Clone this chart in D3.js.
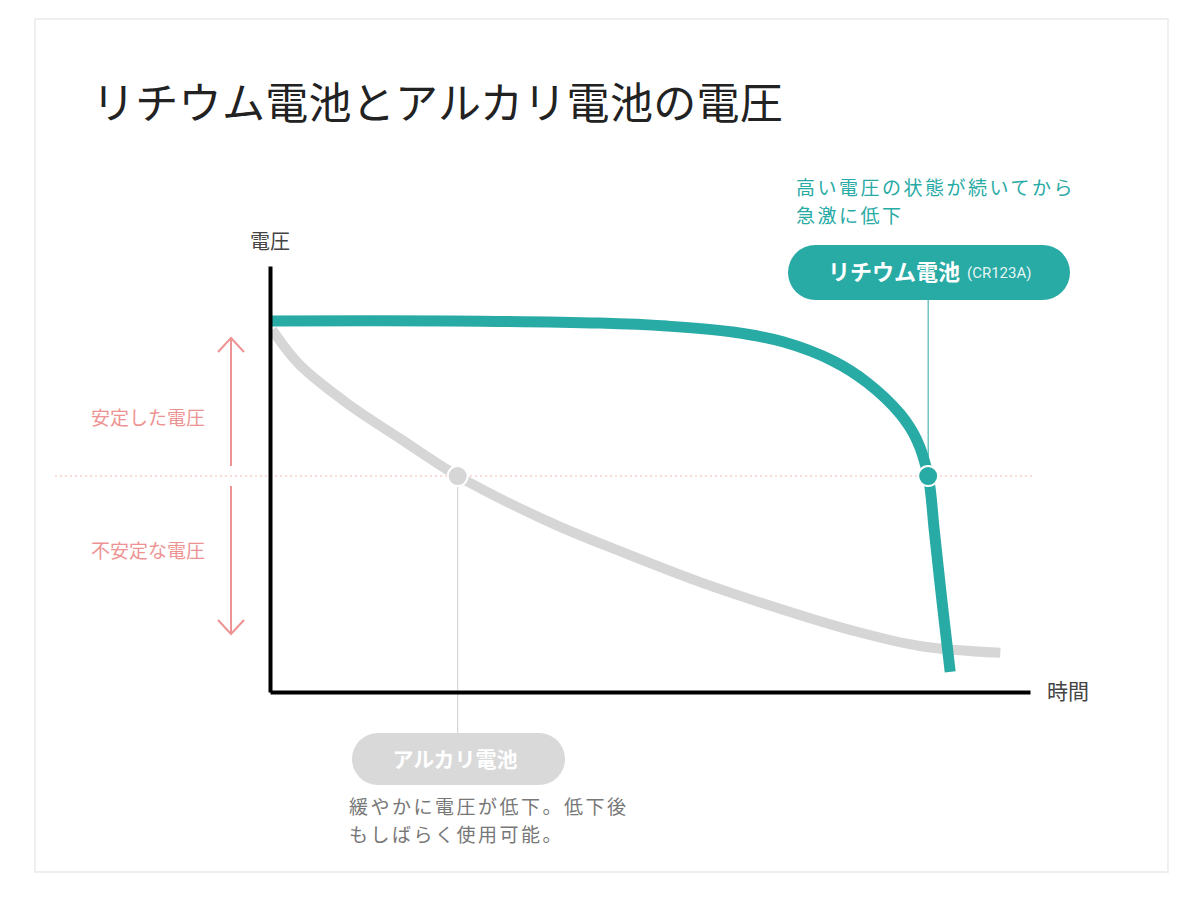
<!DOCTYPE html>
<html>
<head>
<meta charset="utf-8">
<script src="https://cdn.jsdelivr.net/npm/d3@7"></script>
<style>
  body { margin: 0; background: #fff; }
  svg text { font-family: "Noto Sans CJK JP", "Noto Sans", sans-serif; }
</style>
</head>
<body>
<svg></svg>
<script>
// time (0-100) and voltage (0-100)
var lithiumTime    = [0, 23.7, 43.4, 52.2, 60.9, 67.5, 74.1, 78.6, 82.9, 85.1, 86.6, 87.4, 88.4, 89.5]
var lithiumVolt    = [87.1, 87.1, 86.6, 85.9, 84.5, 82.2, 77.7, 72.6, 65.3, 59.2, 50.7, 38.0, 21.6, 4.7]
var alkalineTime   = [0.3, 3.9, 10.5, 17.1, 24.7, 37.0, 46.7, 56.6, 66.3, 76.3, 85.5, 96.1]
var alkalineVolt   = [85.0, 76.8, 67.3, 59.5, 50.7, 39.7, 32.6, 25.8, 20.0, 14.6, 10.8, 9.2]
var threshold = 50.7
var markerTime = {lithium: 86.6, alkaline: 24.7}

var screen = {width: 1200, height: 902}
var teal = "#28aaa5", gray = "#d6d6d6", pink = "#ee9393"

var svg = d3.select("svg")
    .attr("width", screen.width)
    .attr("height", screen.height)

// frame
svg.append("rect")
    .attr("x", 35).attr("y", 19)
    .attr("width", 1133).attr("height", 853)
    .attr("fill", "#fff")
    .attr("stroke", "#efefef")
    .attr("stroke-width", 2)

svg.append("text")
    .attr("x", 92).attr("y", 119)
    .attr("font-size", 43)
    .attr("letter-spacing", 0.3)
    .attr("fill", "#222")
    .text("リチウム電池とアルカリ電池の電圧")

var xScale = d3.scaleLinear().domain([0, 100]).range([270, 1030])
var yScale = d3.scaleLinear().domain([0, 100]).range([692, 266])

var toPoints = function(ts, vs) {
    return ts.map(function(t, i) { return {t: t, v: vs[i]} })
}
var lithium = toPoints(lithiumTime, lithiumVolt)
var alkaline = toPoints(alkalineTime, alkalineVolt)

// threshold dotted line
svg.append("line")
    .attr("x1", 55).attr("x2", 1035)
    .attr("y1", yScale(threshold)).attr("y2", yScale(threshold))
    .attr("stroke", "#f3b9b2")
    .attr("stroke-width", 1.2)
    .attr("stroke-dasharray", "2,3")

// pink double arrow
var ax = 231, gapTop = yScale(threshold) - 10, gapBot = yScale(threshold) + 10
var arrowG = svg.append("g").attr("stroke", pink).attr("stroke-width", 2).attr("fill", "none")
arrowG.append("line").attr("x1", ax).attr("x2", ax).attr("y1", 338).attr("y2", gapTop)
arrowG.append("line").attr("x1", ax).attr("x2", ax).attr("y1", gapBot).attr("y2", 634)
arrowG.append("polyline").attr("points", [[ax - 13, 352], [ax, 338], [ax + 13, 352]].join(" "))
arrowG.append("polyline").attr("points", [[ax - 13, 620], [ax, 634], [ax + 13, 620]].join(" "))

svg.append("text").attr("x", 205).attr("y", 425).attr("text-anchor", "end")
    .attr("font-size", 19).attr("fill", pink).text("安定した電圧")
svg.append("text").attr("x", 205).attr("y", 558).attr("text-anchor", "end")
    .attr("font-size", 19).attr("fill", pink).text("不安定な電圧")

// connector lines to labels
svg.append("line")
    .attr("x1", xScale(markerTime.alkaline)).attr("x2", xScale(markerTime.alkaline))
    .attr("y1", yScale(threshold)).attr("y2", 733)
    .attr("stroke", "#cfcfcf").attr("stroke-width", 1)
svg.append("line")
    .attr("x1", xScale(markerTime.lithium)).attr("x2", xScale(markerTime.lithium))
    .attr("y1", 300).attr("y2", yScale(threshold))
    .attr("stroke", teal).attr("stroke-width", 1)

// curves
var line = d3.line()
    .x(function(p) { return xScale(p.t) })
    .y(function(p) { return yScale(p.v) })
    .curve(d3.curveCatmullRom.alpha(0.5))

svg.append("path").datum(alkaline)
    .attr("d", line)
    .attr("fill", "none")
    .attr("stroke", gray)
    .attr("stroke-width", 10)

svg.append("path").datum(lithium)
    .attr("d", line)
    .attr("fill", "none")
    .attr("stroke", teal)
    .attr("stroke-width", 11)

// markers
svg.append("circle")
    .attr("cx", xScale(markerTime.alkaline)).attr("cy", yScale(threshold))
    .attr("r", 10).attr("fill", gray).attr("stroke", "#fff").attr("stroke-width", 2)
svg.append("circle")
    .attr("cx", xScale(markerTime.lithium)).attr("cy", yScale(threshold))
    .attr("r", 10).attr("fill", teal).attr("stroke", "#fff").attr("stroke-width", 2)

// axes
svg.append("g")
    .attr("transform", "translate(0," + yScale(0) + ")")
    .call(d3.axisBottom(xScale).tickValues([]).tickSizeOuter(0))
svg.append("g")
    .attr("transform", "translate(" + xScale(0) + ",0)")
    .call(d3.axisLeft(yScale).tickValues([]).tickSizeOuter(0))
svg.selectAll(".domain").attr("stroke", "#000").attr("stroke-width", 4)

svg.append("text").attr("x", 270).attr("y", 249).attr("text-anchor", "middle")
    .attr("font-size", 20).attr("fill", "#444").text("電圧")
svg.append("text").attr("x", 1047).attr("y", 699)
    .attr("font-size", 21).attr("fill", "#444").text("時間")

// lithium label
svg.append("rect")
    .attr("x", 788).attr("y", 245).attr("width", 282).attr("height", 55)
    .attr("rx", 27.5).attr("fill", teal)
var lt = svg.append("text").attr("x", 828).attr("y", 280).attr("fill", "#fff")
lt.append("tspan").attr("font-size", 22).attr("font-weight", "bold").text("リチウム電池")
lt.append("tspan").attr("dx", 7).attr("dy", -2).attr("font-size", 15)
    .attr("font-family", "Roboto, sans-serif").attr("fill-opacity", 0.9).text("(CR123A)")

// two-line notes
var note = function(x, y, lines, color) {
    lines.forEach(function(s, i) {
        svg.append("text").attr("x", x).attr("y", y + i * 28)
            .attr("font-size", 19).attr("letter-spacing", 2.5).attr("fill", color)
            .text(s)
    })
}
note(796, 195, ["高い電圧の状態が続いてから", "急激に低下"], teal)

// alkaline label
svg.append("rect")
    .attr("x", 352).attr("y", 733).attr("width", 213).attr("height", 52)
    .attr("rx", 26).attr("fill", "#d9d9d9")
svg.append("text").attr("x", 455).attr("y", 767).attr("text-anchor", "middle")
    .attr("font-size", 21).attr("font-weight", "bold").attr("fill", "#fff").text("アルカリ電池")

note(349, 814, ["緩やかに電圧が低下。低下後", "もしばらく使用可能。"], "#777")
</script>
</body>
</html>
